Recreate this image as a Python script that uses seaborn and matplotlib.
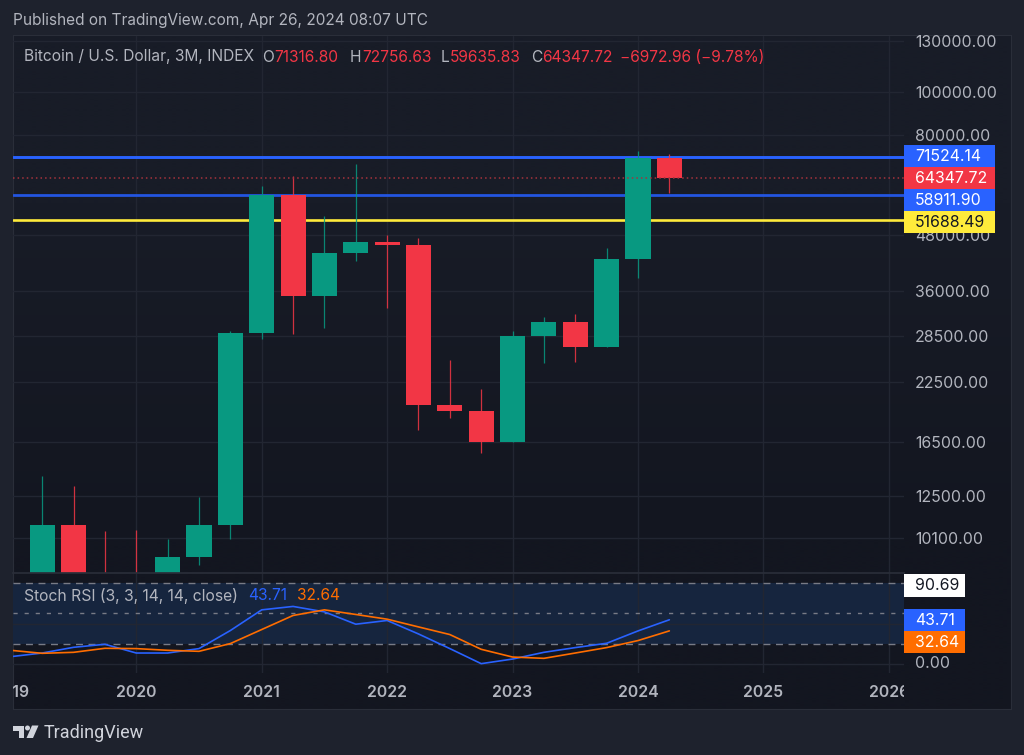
import numpy as np
import pandas as pd
import matplotlib
matplotlib.use("Agg")
import matplotlib.pyplot as plt
from matplotlib.patches import Rectangle, Polygon, Circle
import seaborn as sns

# ---- data ----
quarters = [2019.25, 2019.5, 2019.75, 2020.0, 2020.25, 2020.5, 2020.75, 2021.0, 2021.25, 2021.5, 2021.75,
            2022.0, 2022.25, 2022.5, 2022.75, 2023.0, 2023.25, 2023.5, 2023.75, 2024.0, 2024.25]
opens = [4100, 10800, 8300, 7200, 6400, 9150, 10800, 28950, 58900, 35000, 43700,
         46200, 45500, 20000, 19400, 16500, 28500, 30600, 27000, 42400, 71316.80]
closes = [10800, 8300, 7200, 6400, 9150, 10800, 28950, 58900, 35000, 43700, 46200,
          45500, 20000, 19400, 16500, 28500, 30600, 27000, 42400, 71316.80, 64347.72]
highs = [13850, 13180, 10450, 10500, 10050, 12470, 29300, 61700, 64900, 52900, 69050,
         48000, 47200, 25200, 21700, 29200, 31500, 31900, 44800, 73800, 72756.63]
lows = [3700, 7700, 6500, 3850, 6400, 8800, 10050, 28000, 28750, 29700, 41900,
        33000, 17600, 18700, 15600, 16500, 24800, 24900, 27000, 38500, 59635.83]

stoch_x = [2019.0] + quarters
stoch_k = [7, 10.6, 16.3, 19.3, 10.6, 10.6, 15, 33, 53.6, 57, 51.6, 39.3,
           43, 29.6, 15, 0, 4.6, 11.3, 16, 20.3, 32.6, 43.71]
stoch_d = [13.3, 10.3, 11.3, 15.3, 15, 13.3, 12.3, 20, 34, 48, 53.6, 49,
           44.3, 36.6, 29, 14.3, 6.6, 5.3, 10.6, 16, 23, 32.64]

price_ticks = [130000, 100000, 80000, 48000, 36000, 28500, 22500, 16500, 12500, 10100]
level_blue = [71524.14, 58911.90]
level_yellow = 51688.49
last_close = 64347.72
stoch_levels = [80, 50, 20]
stoch_grid = [0, 40]
years = [2019, 2020, 2021, 2022, 2023, 2024, 2025, 2026]

# ---- style ----
UP, DOWN = "#089981", "#f23645"
BLUE, ORANGE, YELLOW = "#2962ff", "#ff6d00", "#ffeb3b"
TXT, GRID = "#b2b5be", "#222632"
FIG_BG = "#1e222d"
W, H = 1024, 755

sns.set_theme(style="dark", rc={"axes.grid": False, "figure.facecolor": FIG_BG})
plt.rcParams["font.family"] = ["Inter", "DejaVu Sans"]

fig = plt.figure(figsize=(W / 100, H / 100), dpi=100, facecolor=FIG_BG)


def box(l, t, r, b):
    return [l / W, 1 - b / H, (r - l) / W, (b - t) / H]


# frame background gradient
bg = fig.add_axes(box(13, 35, 1011, 709), zorder=0)
grad = np.array([[24, 28, 39], [19, 22, 32]]) / 255
bg.imshow(grad[:, None, :], aspect="auto", interpolation="bilinear", extent=(0, 1, 0, 1))
bg.set_xticks([]); bg.set_yticks([])
for s in bg.spines.values():
    s.set_color("#2a2e39"); s.set_linewidth(0.8)

XLIM = (2019.017, 2026.121)

# ---- price pane ----
ax = fig.add_axes(box(13, 36, 904, 573), zorder=1)
ax.patch.set_alpha(0)
df = pd.DataFrame({"x": quarters, "o": opens, "c": closes, "h": highs, "l": lows})
df["bot"] = df[["o", "c"]].min(axis=1)
df["top"] = df[["o", "c"]].max(axis=1)
up = df[df.c >= df.o]
down = df[df.c < df.o]
for sub, col in ((up, UP), (down, DOWN)):
    sns.barplot(x=sub.x.values, y=(sub.top - sub.bot).values, bottom=sub.bot.values,
                native_scale=True, orient="x", width=0.8, color=col, saturation=1,
                errorbar=None, linewidth=0, ax=ax, zorder=4)
    ax.vlines(sub.x, sub.l, sub.h, color=col, lw=0.9, zorder=3.5, alpha=0.85)
ax.set_yscale("log")
ax.set_ylim(8424, 133390)
ax.set_xlim(*XLIM)
ax.set_xlabel(""); ax.set_ylabel("")
ax.set_xticks(years[1:]); ax.set_xticklabels([])
ax.minorticks_off()
ax.yaxis.tick_right()
ax.set_yticks(price_ticks)
ax.set_yticklabels([f"{v:.2f}" for v in price_ticks], color=TXT, fontsize=11.4)
ax.tick_params(axis="y", length=0, pad=8, which="both")
ax.tick_params(axis="x", length=0)
ax.grid(True, color=GRID, lw=1, zorder=0)
ax.set_axisbelow(True)
for s in ax.spines.values():
    s.set_visible(False)
ax.axhline(level_blue[0], color=BLUE, lw=2.1, zorder=2)
ax.axhline(level_blue[1], color="#2355e0", lw=2.0, zorder=2)
ax.axhline(level_yellow, color=YELLOW, lw=1.9, zorder=2)
ax.axhline(last_close, color="#a5333d", lw=1.1, ls=(0, (1, 2)), zorder=5)

# ---- stochastic pane ----
ax2 = fig.add_axes(box(13, 573, 904, 673), zorder=1)
ax2.patch.set_alpha(0)
ax2.set_xlim(*XLIM)
ax2.set_ylim(-9.3, 90.3)
ax2.axhspan(stoch_levels[2], stoch_levels[0], color="#16253e", lw=0, zorder=0.5)
for lv, dash in zip(stoch_levels, [(5, 4), (3, 5), (5, 4)]):
    ax2.axhline(lv, color="#787b86", lw=1, ls=(0, dash), zorder=2)
sdf = pd.DataFrame({"x": stoch_x, "k": stoch_k, "d": stoch_d})
sns.lineplot(data=sdf, x="x", y="k", color=BLUE, lw=1.2, ax=ax2, zorder=3, errorbar=None)
sns.lineplot(data=sdf, x="x", y="d", color=ORANGE, lw=1.2, ax=ax2, zorder=3.5, errorbar=None)
ax2.set_xlim(*XLIM)
ax2.set_ylim(-9.3, 90.3)
ax2.set_xlabel(""); ax2.set_ylabel("")
ax2.set_xticks(years[1:]); ax2.set_xticklabels([])
ax2.set_yticks(stoch_grid); ax2.set_yticklabels([])
ax2.tick_params(length=0)
ax2.grid(True, color=GRID, lw=1, zorder=0)
ax2.set_axisbelow(True)
for s in ax2.spines.values():
    s.set_visible(False)
ax2.spines["top"].set_visible(True)
ax2.spines["top"].set_color("#2a2e39")

# ---- time axis (labels clipped at the pane edges) ----
axt = fig.add_axes(box(13, 673, 904, 709), zorder=1)
axt.patch.set_alpha(0)
axt.set_xlim(*XLIM); axt.set_ylim(0, 1)
axt.axis("off")
for y in years:
    axt.text(y, 0.45, str(y), ha="center", va="center", color=TXT, fontsize=11.4,
             fontweight="semibold", clip_on=True)

# ---- overlay in pixel coordinates: texts, price tags, logo ----
ov = fig.add_axes([0, 0, 1, 1], zorder=5)
ov.set_xlim(0, W); ov.set_ylim(H, 0)
ov.axis("off")
ov.patch.set_alpha(0)


def t(x, y, s, c=TXT, fs=11.2, **k):
    ov.text(x, y, s, color=c, fontsize=fs, va="center", ha=k.pop("ha", "left"), **k)


t(13, 21, "Published on TradingView.com, Apr 26, 2024 08:07 UTC", fs=11.1)
t(24, 57, "Bitcoin / U.S. Dollar, 3M, INDEX")
for x, s, c in [(262, "O", TXT), (274, "71316.80", DOWN), (350, "H", TXT), (362, "72756.63", DOWN),
                (441, "L", TXT), (450, "59635.83", DOWN), (531, "C", TXT), (542, "64347.72", DOWN),
                (620, "−6972.96 (−9.78%)", DOWN)]:
    t(x, 57, s, c)
t(24, 596, "Stoch RSI (3, 3, 14, 14, close)", fs=11.3)
t(248, 596, "43.71", BLUE)
t(297, 596, "32.64", ORANGE)

for (top, bot, col, tc, s) in [(145, 167, BLUE, "white", "71524.14"), (167, 189, DOWN, "white", "64347.72"),
                               (189, 211, BLUE, "white", "58911.90"), (211, 233, YELLOW, "#131722", "51688.49")]:
    ov.add_patch(Rectangle((904, top), 91, bot - top, color=col, lw=0))
    t(915, (top + bot) / 2 + 0.5, s, tc, fs=11.4)
for (top, bot, col, tc, s) in [(574, 596.5, "white", "#131722", "90.69"), (609, 631, BLUE, "white", "43.71"),
                               (631, 653, ORANGE, "white", "32.64")]:
    ov.add_patch(Rectangle((904, top), 61, bot - top, color=col, lw=0))
    t(915, (top + bot) / 2 + 0.5, s, tc, fs=11.4)
t(915, 664, "0.00", fs=11.4)

# logo
ov.add_patch(Polygon([(13, 725.5), (24, 725.5), (24, 738), (18.5, 738), (18.5, 730.5), (13, 730.5)], color="#d1d4dc", lw=0))
ov.add_patch(Circle((27.5, 728), 2.5, color="#d1d4dc", lw=0))
ov.add_patch(Polygon([(32, 725.5), (38.5, 725.5), (33, 738), (26.5, 738)], color="#d1d4dc", lw=0))
ov.text(44, 733, "TradingView", color="#d1d4dc", fontsize=13, va="center", family=["Roboto", "DejaVu Sans"])

fig.savefig("out.png", dpi=100, facecolor=FIG_BG)
